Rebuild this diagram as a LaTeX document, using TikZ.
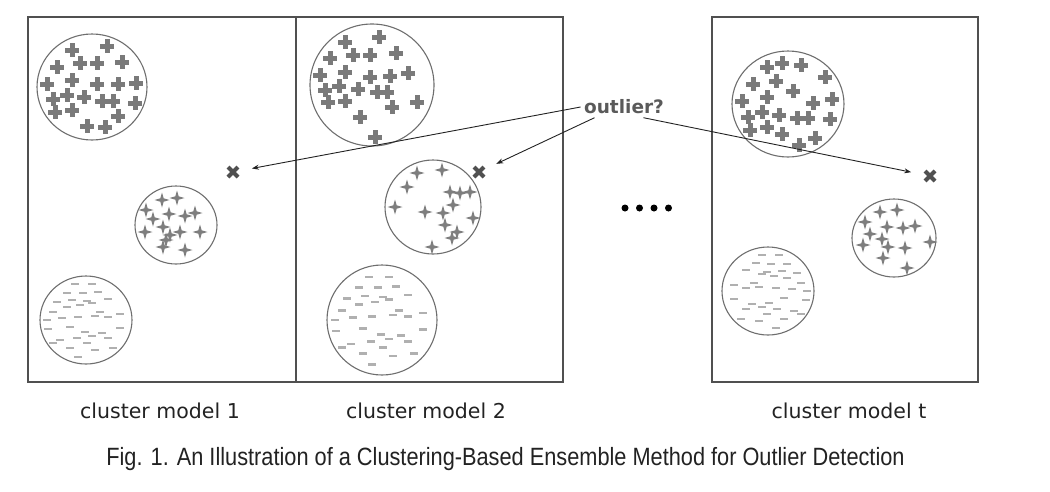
\documentclass[tikz,border=0pt]{standalone}
\usepackage{fontspec}
\setmainfont{DejaVu Sans}
\newfontfamily\capfont[FakeStretch=0.87]{Liberation Sans}
\usetikzlibrary{arrows.meta,positioning}
\definecolor{boxgray}{HTML}{505050}
\definecolor{clusgray}{HTML}{6E6E6E}
\definecolor{plusgray}{HTML}{7A7A7A}
\definecolor{stargray}{HTML}{7E7E7E}
\definecolor{dashgray}{HTML}{B0B0B0}
\definecolor{xgray}{HTML}{505050}
\definecolor{txtgray}{HTML}{5A5A5A}
\definecolor{labgray}{HTML}{222222}
\tikzset{
  panelbox/.style={draw=boxgray, line width=1.3pt},
  clus/.style={draw=clusgray, line width=1.1pt},
  plusmark/.style={draw=plusgray, line width=5pt},
  starmark/.style={fill=stargray},
  dashmark/.style={draw=dashgray, line width=2.4pt},
  xmark/.style={draw=xgray, line width=4pt},
  outmark/.style={circle, inner sep=0pt, minimum size=38pt},
  pointer/.style={draw=labgray, line width=0.9pt, -{Stealth[length=7pt,width=5pt]}},
  modellab/.style={anchor=base, text=labgray, font=\fontsize{20.5}{24}\selectfont},
}
\newcommand{\dashlist}{-11/-36, 6/-36, -19/-27, -3/-27, 12/-28, -29/-18, -14/-20, 1/-19, 22/-21,
  -19/-13, -6/-15, 6/-17, -33/-8, 14/-8, 34/-6, -39/0, -24/-2, -8/-3, 9/-4, 22/-3, -38/9,
  -16/7, -1/12, 16/13, 34/8, -26/20, -9/18, 6/16, 22/18, -33/23, 1/23, -16/28, 9/30, 27/28, -8/37}
\begin{document}
\begin{tikzpicture}[x=1pt, y=-1pt]
  \useasboundingbox (0,0) rectangle (1050,491);

  % panels
  \draw[panelbox] (28,17) rectangle (296,382);
  \draw[panelbox] (296,17) rectangle (563,382);
  \draw[panelbox] (712,17) rectangle (978,382);

  % cluster model 1
  \draw[clus] (92,87) ellipse [x radius=55, y radius=53];
  \draw[clus] (176,225) ellipse [x radius=41, y radius=39];
  \draw[clus] (86,320) ellipse [x radius=46, y radius=44];
  \begin{scope}[shift={(92,87)}]
    \foreach \dx/\dy in {-20/-37, 15/-41, -35/-20, -12/-24, 5/-24, 30/-25, -45/-3, -20/-7, 5/-3, 26/-3, 44/-4,
        -39/12, -25/8, -8/10, 10/14, 21/14, 43/16, -37/25, -20/23, 26/29, -5/39, 13/40}
      \draw[plusmark] (\dx-7,\dy) -- (\dx+7,\dy) (\dx,\dy-7) -- (\dx,\dy+7);
  \end{scope}
  \begin{scope}[shift={(176,225)}]
    \foreach \dx/\dy in {-14/-25, 1/-27, -30/-15, -23/-6, -7/-11, 9/-9, 19/-12, -31/7, -13/2, -6/10, 4/7, 24/7,
        -10/15, -13/22, 9/25}
      \fill[starmark, shift={(\dx,\dy)}] (0,-7.5) -- (1.7,-1.7) -- (7.5,0) -- (1.7,1.7) -- (0,7.5) -- (-1.7,1.7)
        -- (-7.5,0) -- (-1.7,-1.7) -- cycle;
  \end{scope}
  \begin{scope}[shift={(86,320)}]
    \foreach \dx/\dy in \dashlist
      \draw[dashmark] (\dx-4,\dy) -- (\dx+4,\dy);
  \end{scope}
  \node[outmark] (m1out) at (233,172) {};
  \draw[xmark] (m1out.center) ++(-5,-5) -- ++(10,10) ++(-10,0) -- ++(10,-10);

  % cluster model 2
  \draw[clus] (372,85) ellipse [x radius=62, y radius=61];
  \draw[clus] (433,207) ellipse [x radius=48, y radius=47];
  \draw[clus] (382,320) circle (55);
  \begin{scope}[shift={(372,85)}]
    \foreach \dx/\dy in {-27/-43, 7/-48, -42/-27, -19/-30, -2/-30, 24/-32, -52/-10, -27/-13, -2/-8, 18/-9, 36/-12,
        -47/5, -33/1, -14/4, 5/7, 15/7, 45/17, -44/17, -27/16, 20/22, -12/32, 3/52}
      \draw[plusmark] (\dx-7,\dy) -- (\dx+7,\dy) (\dx,\dy-7) -- (\dx,\dy+7);
  \end{scope}
  \begin{scope}[shift={(433,207)}]
    \foreach \dx/\dy in {-16/-34, 9/-37, -26/-20, 17/-15, 27/-14, 37/-15, -38/0, -8/5, 10/6, 20/-2, 12/18, 40/11,
        24/25, 19/31, -1/40}
      \fill[starmark, shift={(\dx,\dy)}] (0,-7.5) -- (1.7,-1.7) -- (7.5,0) -- (1.7,1.7) -- (0,7.5) -- (-1.7,1.7)
        -- (-7.5,0) -- (-1.7,-1.7) -- cycle;
  \end{scope}
  \begin{scope}[shift={(382,320)}]
    \foreach \dx/\dy in \dashlist
      \draw[dashmark] (1.2*\dx-4,1.2*\dy) -- (1.2*\dx+4,1.2*\dy);
  \end{scope}
  \node[outmark] (m2out) at (479,172) {};
  \draw[xmark] (m2out.center) ++(-5,-5) -- ++(10,10) ++(-10,0) -- ++(10,-10);

  % cluster model t
  \draw[clus] (788,104) ellipse [x radius=56, y radius=53];
  \draw[clus] (894,238) ellipse [x radius=42, y radius=39];
  \draw[clus] (768,291) ellipse [x radius=46, y radius=44];
  \begin{scope}[shift={(788,104)}]
    \foreach \dx/\dy in {-21/-37, -6/-41, 13/-39, 37/-27, -35/-20, -12/-23, 5/-13, -46/-3, -21/-7, 25/-1, 44/-5,
        -40/13, -26/8, -9/11, 9/14, 20/14, 42/15, -38/26, -21/23, -6/30, 11/41, 27/34}
      \draw[plusmark] (\dx-7,\dy) -- (\dx+7,\dy) (\dx,\dy-7) -- (\dx,\dy+7);
  \end{scope}
  \begin{scope}[shift={(894,238)}]
    \foreach \dx/\dy in {-14/-26, 3/-28, -29/-16, -7/-11, 9/-10, 21/-12, -24/-4, -12/1, -31/7, -6/9, 11/10, 36/4,
        -11/20, 13/30}
      \fill[starmark, shift={(\dx,\dy)}] (0,-7.5) -- (1.7,-1.7) -- (7.5,0) -- (1.7,1.7) -- (0,7.5) -- (-1.7,1.7)
        -- (-7.5,0) -- (-1.7,-1.7) -- cycle;
  \end{scope}
  \begin{scope}[shift={(768,291)}]
    \foreach \dx/\dy in \dashlist
      \draw[dashmark] (-\dx-4,\dy) -- (-\dx+4,\dy);
  \end{scope}
  \node[outmark] (m3out) at (930,176) {};
  \draw[xmark] (m3out.center) ++(-5,-5) -- ++(10,10) ++(-10,0) -- ++(10,-10);

  % dots between the models
  \foreach \x in {625,639.5,654,668.5}
    \fill (\x,208) circle (3.5);

  % outlier question
  \node[text=txtgray, font=\bfseries\fontsize{18.5}{22}\selectfont] (outlier) at (624,107) {outlier?};
  \draw[pointer] (outlier.west) -- (m1out);
  \draw[pointer] ([xshift=14pt]outlier.south west) -- (m2out);
  \draw[pointer] ([xshift=-24pt]outlier.south east) -- (m3out);

  % labels
  \node[modellab] (m1lab) at (160,418) {cluster model 1};
  \node[modellab] (m2lab) at (426,418) {cluster model 2};
  \node[modellab] (m3lab) at (849,418) {cluster model t};
  \node[anchor=base, text=labgray, font=\capfont\fontsize{25}{30}\selectfont] (caption) at (505.5,465)
    {Fig. 1. An Illustration of a Clustering-Based Ensemble Method for Outlier Detection};
\end{tikzpicture}
\end{document}
